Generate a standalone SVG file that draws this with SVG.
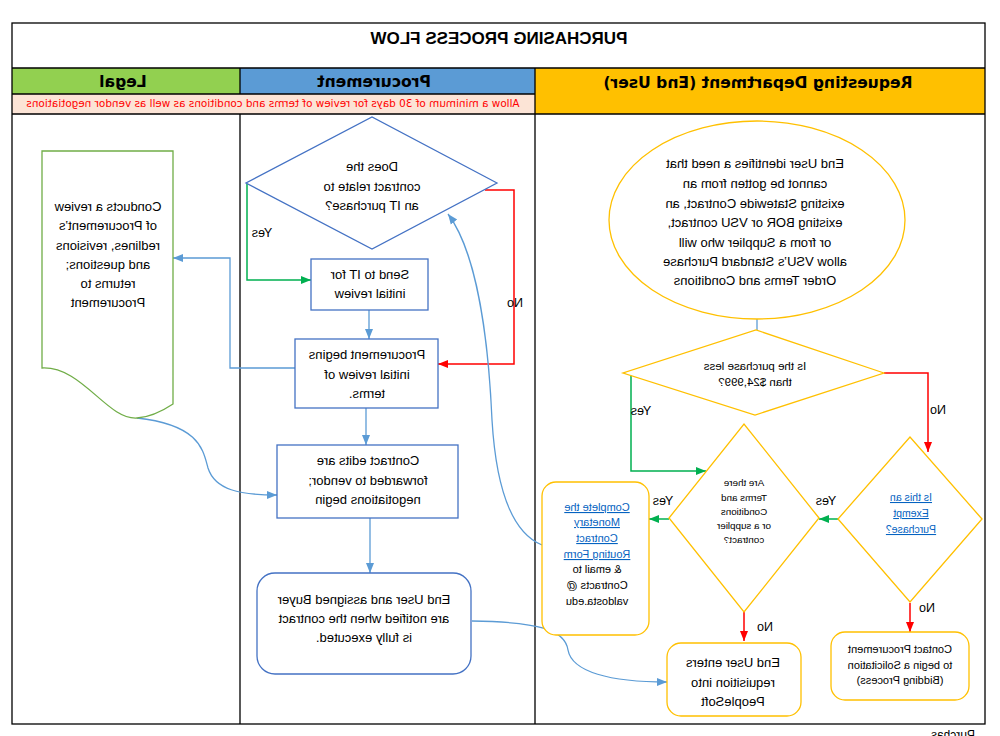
<svg xmlns="http://www.w3.org/2000/svg" width="1000" height="736" viewBox="0 0 1000 736">
<defs>
<marker id="ab" viewBox="0 0 10 10" refX="10" refY="5" markerWidth="10" markerHeight="10" markerUnits="userSpaceOnUse" orient="auto"><path d="M0,1 L10,5 L0,9 z" fill="#5B9BD5"/></marker>
<marker id="ag" viewBox="0 0 10 10" refX="10" refY="5" markerWidth="10" markerHeight="10" markerUnits="userSpaceOnUse" orient="auto"><path d="M0,1 L10,5 L0,9 z" fill="#00B050"/></marker>
<marker id="ar" viewBox="0 0 10 10" refX="10" refY="5" markerWidth="10" markerHeight="10" markerUnits="userSpaceOnUse" orient="auto"><path d="M0,1 L10,5 L0,9 z" fill="#FF0000"/></marker>
<style>
.t{font-family:"Liberation Sans",Arial,sans-serif;font-size:13px;fill:#000;text-anchor:middle}
.lb{font-size:12.5px}
.h{font-family:"DejaVu Sans",sans-serif;font-size:15.6px;font-weight:bold;fill:#000;text-anchor:middle}
.s{font-size:11px}
.xs{font-size:9.8px}
.lk{fill:#0563C1;text-decoration:underline}
.pb{fill:#fff;stroke:#4472C4;stroke-width:1.3}
.yb{fill:#fff;stroke:#FFC000;stroke-width:1.3}
.cb{fill:none;stroke:#5B9BD5;stroke-width:1.3}
.cg{fill:none;stroke:#00B050;stroke-width:1.5}
.cr{fill:none;stroke:#FF0000;stroke-width:1.5}
.ln{stroke:#000;stroke-width:1.3;fill:none}
</style>
</defs>
<rect width="1000" height="736" fill="#fff"/>
<g transform="matrix(-1 0 0 1 1000 0)">
<g id="frame">
<rect x="760" y="68" width="228" height="26" fill="#92D050"/>
<rect x="465" y="68" width="295" height="26" fill="#5B9BD5"/>
<rect x="465" y="94" width="523" height="20" fill="#FCE4D6"/>
<rect x="15" y="68" width="450" height="46" fill="#FFC000"/>
<rect x="15" y="23" width="973" height="701" class="ln" stroke-width="1.5"/>
<path class="ln" d="M15,68 H988 M465,94 H988 M15,114 H988 M760,68 V94 M760,114 V724 M465,68 V724"/>
<text x="501" y="44" class="h" style="font-family:'Liberation Sans',Arial,sans-serif;font-size:17px">PURCHASING PROCESS FLOW</text>
<text x="877" y="87" class="h">Legal</text>
<text x="626" y="87" class="h">Procurement</text>
<text x="242" y="88" class="h">Requesting Department (End User)</text>
<text x="727" y="107" class="t" style="font-family:'DejaVu Sans',sans-serif;font-size:10.45px;fill:#FF0000">Allow a minimum of 30 days for review of terms and conditions as well as vendor negotiations</text>
<text x="25" y="739" class="t" style="text-anchor:start;font-size:12px">Purchas</text>
</g>
<g id="connectors">
<path class="cg" d="M753,184 V280 H689" marker-end="url(#ag)"/>
<text x="738" y="237" class="t lb">Yes</text>
<path class="cb" d="M631,310 V339" marker-end="url(#ab)"/>
<path class="cr" d="M515,190 H486 V364 H562" marker-end="url(#ar)"/>
<text x="485" y="307" class="t lb">No</text>
<path class="cb" d="M705,368 H770 V258 H827" marker-end="url(#ab)"/>
<path class="cb" d="M863,418 C800,425 797,450 792,468 C785,490 760,495 723,495" marker-end="url(#ab)"/>
<path class="cb" d="M634,408 V445" marker-end="url(#ab)"/>
<path class="cb" d="M630,518 V573" marker-end="url(#ab)"/>
<path class="cb" d="M528,621 C460,622 435,630 432,650 C428,672 390,682 333,682" marker-end="url(#ab)"/>
<path class="cb" d="M458,545 C495,530 505,470 508,420 C512,330 525,250 552,214" marker-end="url(#ab)"/>
<path class="cb" d="M243,319 V330"/>
<path class="cg" d="M376,373 H369 V471 H294" marker-end="url(#ag)"/>
<text x="359" y="415" class="t lb">Yes</text>
<path class="cr" d="M116,373 H72 V452" marker-end="url(#ar)"/>
<text x="62" y="414" class="t lb">No</text>
<path class="cg" d="M162,519 H181" marker-end="url(#ag)"/>
<text x="174" y="505" class="t lb">Yes</text>
<path class="cg" d="M331,519 H351" marker-end="url(#ag)"/>
<text x="337" y="505" class="t lb">Yes</text>
<path class="cr" d="M256,606 V641" marker-end="url(#ar)"/>
<text x="235" y="631" class="t lb">No</text>
<path class="cr" d="M90,603 V632" marker-end="url(#ar)"/>
<text x="73" y="612" class="t lb">No</text>
</g>
<g id="legal-review">
<path d="M827,151 H958 V368 C918,366 893,420 863,418 C848,417 836,410 827,404 Z" fill="#fff" stroke="#70AD47" stroke-width="1.3"/>
<text class="t"><tspan x="892" y="211">Conducts a review</tspan><tspan x="892" y="230">of Procurement’s</tspan><tspan x="892" y="250">redlines, revisions</tspan><tspan x="892" y="269">and questions;</tspan><tspan x="892" y="288">returns to</tspan><tspan x="892" y="307">Procurement</tspan></text>
</g>
<g id="it-decision">
<polygon class="pb" points="503,183 628,117 754,183 628,249"/>
<text class="t"><tspan x="628" y="171">Does the</tspan><tspan x="628" y="191">contract relate to</tspan><tspan x="628" y="210">an IT purchase?</tspan></text>
</g>
<g id="send-it">
<rect class="pb" x="572" y="259" width="117" height="51"/>
<text class="t"><tspan x="630" y="279">Send to IT for</tspan><tspan x="630" y="298">initial review</tspan></text>
</g>
<g id="initial-review">
<rect class="pb" x="562" y="339" width="143" height="69"/>
<text class="t"><tspan x="633" y="359">Procurement begins</tspan><tspan x="633" y="379">initial review of</tspan><tspan x="633" y="398">terms.</tspan></text>
</g>
<g id="contract-edits">
<rect class="pb" x="542" y="445" width="181" height="73"/>
<text class="t"><tspan x="632" y="465">Contract edits are</tspan><tspan x="632" y="485">forwarded to vendor;</tspan><tspan x="632" y="504">negotiations begin</tspan></text>
</g>
<g id="notified">
<rect class="pb" x="529" y="573" width="214" height="101" rx="18"/>
<text class="t"><tspan x="636" y="604">End User and assigned Buyer</tspan><tspan x="636" y="623">are notified when the contract</tspan><tspan x="636" y="642">is fully executed.</tspan></text>
</g>
<g id="need">
<ellipse class="yb" cx="243" cy="220" rx="148" ry="99"/>
<text class="t"><tspan x="245" y="168">End User identifies a need that</tspan><tspan x="245" y="188">cannot be gotten from an</tspan><tspan x="245" y="208">existing Statewide Contract, an</tspan><tspan x="245" y="227">existing BOR or VSU contract,</tspan><tspan x="245" y="247">or from a Supplier who will</tspan><tspan x="245" y="266">allow VSU’s Standard Purchase</tspan><tspan x="245" y="285">Order Terms and Conditions</tspan></text>
</g>
<g id="amount-decision">
<polygon class="yb" points="116,373 244,330 377,373 245,415"/>
<text class="t" style="font-size:11.5px"><tspan x="245" y="370">Is the purchase less</tspan><tspan x="245" y="386">than $24,999?</tspan></text>
</g>
<g id="exempt-decision">
<polygon class="yb" points="18,519 90,437 162,519 90,602"/>
<text class="t lk" style="font-size:10.5px"><tspan x="89" y="501">Is this an</tspan><tspan x="89" y="517">Exempt</tspan><tspan x="89" y="533">Purchase?</tspan></text>
</g>
<g id="terms-decision">
<polygon class="yb" points="181,518 256,424 331,518 256,612"/>
<text class="t xs"><tspan x="256" y="486">Are there</tspan><tspan x="256" y="501">Terms and</tspan><tspan x="256" y="515">Conditions</tspan><tspan x="256" y="529">or a supplier</tspan><tspan x="256" y="543">contract?</tspan></text>
</g>
<g id="routing-form">
<rect class="yb" x="351" y="482" width="107" height="153" rx="14"/>
<text class="t s"><tspan x="403" y="511" class="lk">Complete the</tspan><tspan x="403" y="526" class="lk">Monetary</tspan><tspan x="403" y="542" class="lk">Contract</tspan><tspan x="403" y="558" class="lk">Routing Form</tspan><tspan x="403" y="573">&amp; email to</tspan><tspan x="403" y="589">Contracts @</tspan><tspan x="403" y="605">valdosta.edu</tspan></text>
</g>
<g id="requisition">
<rect class="yb" x="199" y="643" width="134" height="73" rx="14"/>
<text class="t"><tspan x="267" y="667">End User enters</tspan><tspan x="267" y="687">requisition into</tspan><tspan x="267" y="706">PeopleSoft</tspan></text>
</g>
<g id="solicitation">
<rect class="yb" x="31" y="632" width="138" height="68" rx="14"/>
<text class="t s"><tspan x="100" y="653">Contact Procurement</tspan><tspan x="100" y="669">to begin a Solicitation</tspan><tspan x="100" y="684">(Bidding Process)</tspan></text>
</g>
</g>
</svg>
